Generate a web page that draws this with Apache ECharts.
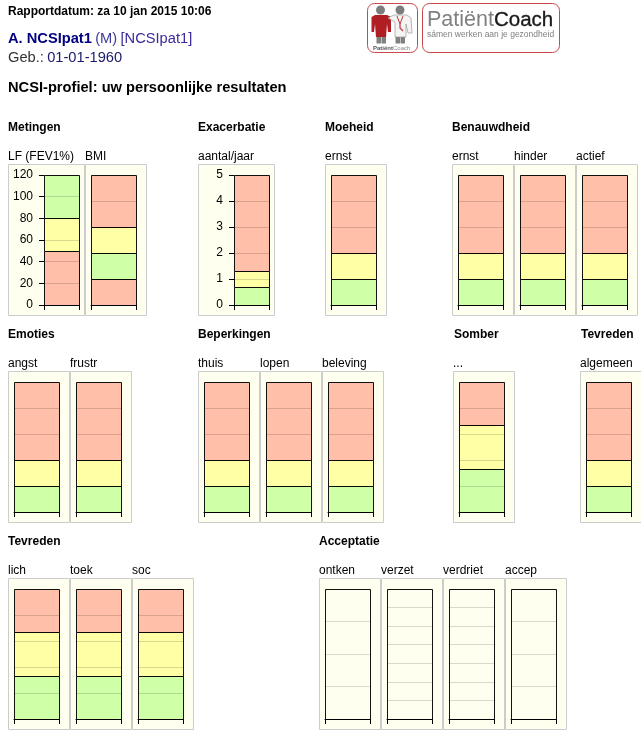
<!DOCTYPE html>
<html>
<head>
<meta charset="utf-8">
<style>html,body{margin:0;padding:0;background:#fff}#c{width:641px;height:736px}</style>
<script src="https://cdn.jsdelivr.net/npm/echarts@6/dist/echarts.min.js"></script>
</head>
<body>
<div id="c"></div>
<script>
const reportDate = 'Rapportdatum: za 10 jan 2015 10:06';
const patientName = 'A. NCSIpat1', patientSex = '(M)', patientCode = '[NCSIpat1]';
const birthLabel = 'Geb.:', birthDate = '01-01-1960';
const pageTitle = 'NCSI-profiel: uw persoonlijke resultaten';

const sectionTitles = ['Metingen','Exacerbatie','Moeheid','Benauwdheid','Emoties','Beperkingen','Somber','Tevreden','Tevreden','Acceptatie'];
const chartLabels = ['LF (FEV1%)','BMI','aantal/jaar','ernst','ernst','hinder','actief',
  'angst','frustr','thuis','lopen','beleving','...','algemeen',
  'lich','toek','soc','ontken','verzet','verdriet','accep'];
const axisMaxes = [120,120,5,5,5,5,5, 5,5,5,5,5,15,5, 15,15,15,4,7,7,4];
const axisSteps = [20,24,1,1,1,1,1, 1,1,1,1,1,3,1, 3,3,3,1,1,1,1];
const segmentValues = [[50,30,40],[24,24,24,48],[0.7,0.6,3.7],[1,1,3],[1,1,3],[1,1,3],[1,1,3],
  [1,1,3],[1,1,3],[1,1,3],[1,1,3],[1,1,3],[5,5,5],[1,1,3],
  [5,5,5],[5,5,5],[5,5,5],[4],[7],[7],[4]];
const segmentZones = [['r','y','g'],['r','g','y','r'],['g','y','r'],['g','y','r'],['g','y','r'],['g','y','r'],['g','y','r'],
  ['g','y','r'],['g','y','r'],['g','y','r'],['g','y','r'],['g','y','r'],['g','y','r'],['g','y','r'],
  ['g','y','r'],['g','y','r'],['g','y','r'],['n'],['n'],['n'],['n']];
const labelledAxes = [true,false,true,false,false,false,false, false,false,false,false,false,false,false, false,false,false,false,false,false,false];

// layout only
const FONT = '"Liberation Sans", Arial, sans-serif';
const zoneColors = {r:'#FFBFA8', y:'#FFFFA6', g:'#CFFFA6', n:'rgba(0,0,0,0)'};
const rowTops = [164,371,578];
const sectionPos = [[8,128],[198,128],[325,128],[452,128],[8,335],[198,335],[454,335],[581,335],[8,542],[319,542]];
const panelPos = [[8,0],[85,0],[198,0],[325,0],[452,0],[514,0],[576,0],
  [8,1],[70,1],[198,1],[260,1],[322,1],[453,1],[580,1],
  [8,2],[70,2],[132,2],[319,2],[381,2],[443,2],[505,2]];

const graphics = [], grids = [], xAxes = [], yAxes = [], series = [];
function text(x,y,t,font,fill,extra){
  graphics.push({type:'text',x,y,z:5,silent:true,style:Object.assign({text:t,font:font,fill:fill,textVerticalAlign:'middle'},extra||{})});
}
text(8,12,reportDate,'bold 12px '+FONT,'#000');
graphics.push({type:'text',x:8,y:39,silent:true,style:{
  text:'{a|'+patientName+'} {b|'+patientSex+'} {c|'+patientCode+'}',
  textVerticalAlign:'middle',
  rich:{a:{font:'bold 14.67px '+FONT,fill:'#000080'},b:{font:'14.67px '+FONT,fill:'#3a3a9a'},c:{font:'14.67px '+FONT,fill:'#3a2a9a'}}
}});
graphics.push({type:'text',x:8,y:58,silent:true,style:{
  text:'{b|'+birthLabel+'} {d|'+birthDate+'}',
  textVerticalAlign:'middle',
  rich:{b:{font:'14.67px '+FONT,fill:'#333'},d:{font:'14.67px '+FONT,fill:'#1a1a6a'}}
}});
text(8,88,pageTitle,'bold 14.67px '+FONT,'#000');
sectionTitles.forEach((t,i)=>text(sectionPos[i][0],sectionPos[i][1],t,'bold 12px '+FONT,'#000'));

function makeRenderItem(zones){
  return function(params, api){
    const lo = api.coord([0, api.value(1)]), hi = api.coord([0, api.value(2)]);
    const bw = api.size([1,0])[0];
    const x = Math.round(lo[0]-bw/2)+.5, w = Math.round(bw);
    const y = Math.round(hi[1])+.5, h = Math.round(lo[1])-Math.round(hi[1]);
    return {type:'rect',shape:{x,y,width:w,height:h},silent:true,
      style:{fill:zoneColors[zones[params.dataIndex]],stroke:'rgba(0,0,0,0.92)',lineWidth:1}};
  };
}

chartLabels.forEach((label,i)=>{
  const px = panelPos[i][0], top = rowTops[panelPos[i][1]];
  const wide = labelledAxes[i];
  const pw = wide ? 76 : 61;
  const off = wide ? 36 : 6, w = wide ? 35 : 45;
  graphics.push({type:'rect',z:-1,silent:true,shape:{x:px+.5,y:top+.5,width:pw,height:151},style:{fill:'#FFFFF0',stroke:'#CCCCCC',lineWidth:1}});
  text(px,top-7,label,'12px '+FONT,'#000');
  grids.push({left:px+off,top:top+11,width:w,height:130,containLabel:false});
  xAxes.push({type:'category',gridIndex:i,data:[label],z:4,
    axisLine:{show:true,lineStyle:{color:'#000',width:1}},
    axisTick:{show:true,length:5,lineStyle:{color:'#000',width:1}},
    axisLabel:{show:false},splitLine:{show:false}});
  yAxes.push({type:'value',gridIndex:i,min:0,max:axisMaxes[i],interval:axisSteps[i],z:3,
    axisLine:{show:false},
    axisTick:{show:wide,length:5,lineStyle:{color:'#000',width:1}},
    axisLabel:{show:wide,color:'#000',fontSize:12,fontFamily:FONT,margin:11},
    splitLine:{show:true,lineStyle:{color:'rgba(0,0,0,0.15)',width:1}}});
  let run = 0;
  const rows = segmentValues[i].map(v=>{const r=[0,run,run+v];run+=v;return r;});
  series.push({type:'custom',xAxisIndex:i,yAxisIndex:i,silent:true,clip:false,
    encode:{x:0,y:[1,2]},data:rows,renderItem:makeRenderItem(segmentZones[i])});
});

// logo decoration
const R='#C8343A', G='#808080';
function add(o){o.silent=true;o.z=6;graphics.push(o);}
add({type:'rect',shape:{x:367.5,y:3.5,width:50,height:49,r:7},style:{fill:'#fff',stroke:'#C9484C',lineWidth:1}});
add({type:'rect',shape:{x:422.5,y:3.5,width:137,height:49,r:7},style:{fill:'#fff',stroke:'#C9484C',lineWidth:1}});
add({type:'circle',shape:{cx:380.5,cy:10,r:4.5},style:{fill:'#7D7D7D'}});
add({type:'circle',shape:{cx:400,cy:10,r:4.5},style:{fill:'#7D7D7D'}});
add({type:'rect',shape:{x:376.5,y:36,width:4.5,height:7.5},style:{fill:G}});
add({type:'rect',shape:{x:381.5,y:36,width:4.5,height:7.5},style:{fill:G}});
add({type:'rect',shape:{x:395.5,y:36,width:4.5,height:7.5},style:{fill:G}});
add({type:'rect',shape:{x:400.5,y:36,width:4.5,height:7.5},style:{fill:G}});
add({type:'polygon',shape:{points:[[375,15],[387,15],[391,17],[391,32],[388,32],[387,24],[386,37],[376,37],[375,24],[374,32],[371.5,32],[371.5,17]]},style:{fill:'#B01E24'}});
add({type:'polygon',shape:{points:[[394,15],[407,15],[411,18],[412,33],[408,33],[406,24],[406,37],[395,37],[395,22],[388,18]]},style:{fill:'#F4F4F4',stroke:'#9A9A9A',lineWidth:.7}});
add({type:'polyline',shape:{points:[[397,16],[400,24],[403,16]]},style:{stroke:R,fill:'none',lineWidth:1}});
add({type:'polyline',shape:{points:[[400,24],[400,28],[403,31]]},style:{stroke:R,fill:'none',lineWidth:1.2}});
text(373,48,'{a|Patiënt}{b|Coach}','',null,{rich:{a:{font:'bold 6px '+FONT,fill:'#555'},b:{font:'6px '+FONT,fill:'#888'}}});
graphics[graphics.length-1].z=6;
text(427,20,'{a|Patiënt}{b|Coach}','',null,{rich:{a:{font:'21.5px '+FONT,fill:'#808080'},b:{font:'20.5px '+FONT,fill:'#1a1a1a',stroke:'#1a1a1a',lineWidth:.35}}});
graphics[graphics.length-1].z=6;
text(427,35,'sámen werken aan je gezondheid','8.5px '+FONT,'#808080');
graphics[graphics.length-1].z=6;

const chart = echarts.init(document.getElementById('c'),null,{renderer:'canvas'});
chart.setOption({animation:false,backgroundColor:'#fff',tooltip:{show:false},
  grid:grids,xAxis:xAxes,yAxis:yAxes,series:series,graphic:{elements:graphics}});
</script>
</body>
</html>
